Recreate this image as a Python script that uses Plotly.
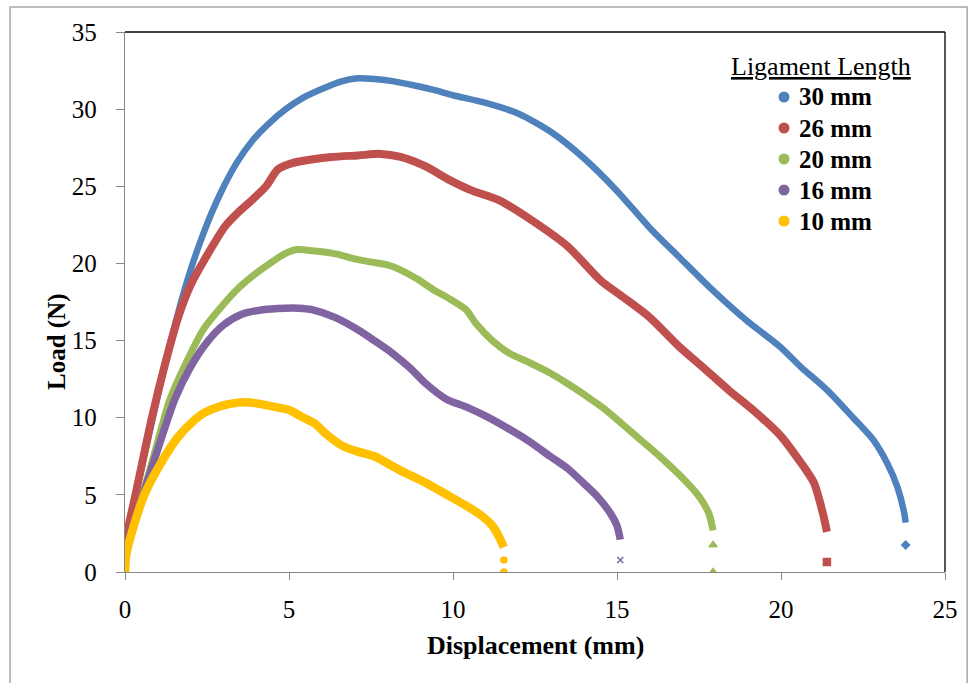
import plotly.graph_objects as go

# Load-displacement curves for five ligament lengths (displacement in mm, load in N)
disp_30 = [0, 0.04, 0.3, 0.9, 1.4, 1.9, 2.4, 2.9, 3.4, 3.9, 4.4, 4.9, 5.4, 6.0, 6.6, 7.1, 7.6,
           8.2, 8.9, 9.5, 10.0, 11.0, 12.0, 13.0, 14.0, 15.0, 16.0, 16.9, 17.9, 18.95, 19.97,
           20.6, 21.4, 22.2, 22.8, 23.25, 23.55, 23.75, 23.8]
load_30 = [0, 2.0, 4.8, 10.5, 15.0, 18.9, 22.0, 24.5, 26.5, 28.0, 29.1, 30.0, 30.7, 31.3, 31.8, 32.0, 31.95,
           31.8, 31.5, 31.2, 30.9, 30.4, 29.7, 28.5, 26.8, 24.7, 22.3, 20.4, 18.3, 16.3, 14.6,
           13.3, 11.8, 10.0, 8.6, 7.0, 5.5, 3.9, 3.2]
tail_disp_30 = [23.8]
tail_load_30 = [1.75]

disp_26 = [0, 0.04, 0.3, 0.82, 1.2, 1.62, 2.0, 2.44, 3.05, 3.5, 3.87, 4.3, 4.66, 5.1, 5.58, 6.3,
           7.1, 7.8, 8.4, 9.15, 9.9, 10.6, 11.4, 12.4, 13.5, 14.5, 15.2, 16.0, 16.9, 17.6, 18.4,
           19.2, 20.0, 20.5, 21.0, 21.3, 21.4]
load_26 = [0, 2.2, 4.8, 10.0, 13.3, 16.5, 18.6, 20.3, 22.4, 23.4, 24.1, 25.0, 26.1, 26.5, 26.7, 26.9,
           27.0, 27.1, 26.9, 26.3, 25.4, 24.7, 24.1, 22.8, 21.1, 18.9, 17.8, 16.5, 14.6, 13.3, 11.8,
           10.4, 8.8, 7.4, 5.8, 3.6, 2.6]
tail_disp_26 = [21.4]
tail_load_26 = [0.65]

disp_20 = [0, 0.05, 0.4, 0.9, 1.37, 1.85, 2.38, 2.9, 3.41, 3.9, 4.42, 4.85, 5.24, 5.8, 6.46, 7.0,
           7.47, 8.0, 8.38, 8.9, 9.4, 9.9, 10.4, 10.7, 11.2, 11.7, 12.3, 12.96, 13.5, 14.1, 14.6,
           15.1, 15.7, 16.3, 16.9, 17.5, 17.8, 17.93]
load_20 = [0, 1.5, 4.0, 7.7, 11.2, 13.5, 15.7, 17.1, 18.3, 19.2, 20.0, 20.6, 20.9, 20.8, 20.6, 20.3,
           20.1, 19.9, 19.6, 19.0, 18.3, 17.7, 17.0, 16.1, 15.0, 14.2, 13.6, 12.9, 12.2, 11.35, 10.6,
           9.7, 8.6, 7.5, 6.3, 4.9, 3.8, 2.7]
tail_disp_20 = [17.93, 17.93]
tail_load_20 = [1.75, 0.0]

disp_16 = [0, 0.05, 0.4, 0.9, 1.52, 2.0, 2.54, 3.0, 3.56, 4.2, 4.88, 5.3, 5.7, 6.4, 7.1, 7.6, 8.14,
           8.7, 9.15, 9.8, 10.4, 11.0, 11.6, 12.3, 12.96, 13.5, 13.96, 14.4, 14.8, 15.0, 15.1]
load_16 = [0, 1.5, 4.0, 7.3, 11.2, 13.3, 15.0, 16.0, 16.7, 17.0, 17.1, 17.1, 17.0, 16.5, 15.7, 15.0,
           14.2, 13.2, 12.25, 11.2, 10.7, 10.1, 9.4, 8.5, 7.5, 6.7, 5.8, 4.9, 3.8, 3.0, 2.1]
tail_disp_16 = [15.1]
tail_load_16 = [0.78]

disp_10 = [0, 0.03, 0.2, 0.61, 1.22, 1.6, 2.04, 2.4, 2.84, 3.2, 3.66, 4.1, 4.57, 5.0, 5.4, 5.8, 6.1,
           6.4, 6.7, 7.1, 7.6, 8.38, 9.15, 9.9, 10.4, 10.9, 11.2, 11.4, 11.55]
load_10 = [0, 1.0, 2.5, 5.1, 7.5, 8.7, 9.7, 10.3, 10.7, 10.9, 11.0, 10.9, 10.7, 10.5, 10.05, 9.6, 9.0,
           8.5, 8.1, 7.8, 7.5, 6.6, 5.8, 4.9, 4.3, 3.6, 3.0, 2.3, 1.6]
tail_disp_10 = [11.55, 11.55]
tail_load_10 = [0.78, 0.0]

series_names = ["30 mm", "26 mm", "20 mm", "16 mm", "10 mm"]
x_ticks = [0, 5, 10, 15, 20, 25]
y_ticks = [0, 5, 10, 15, 20, 25, 30, 35]

series = [
    (disp_30, load_30, tail_disp_30, tail_load_30, "#4F81BD", 6.5, "diamond", 6),
    (disp_26, load_26, tail_disp_26, tail_load_26, "#C0504D", 8.0, "square", 7),
    (disp_20, load_20, tail_disp_20, tail_load_20, "#9BBB59", 7.0, "triangle-up", 7),
    (disp_16, load_16, tail_disp_16, tail_load_16, "#8064A2", 7.5, "x-thin-open", 6),
    (disp_10, load_10, tail_disp_10, tail_load_10, "#FFC000", 8.5, "circle", 6),
]

SERIF = "Liberation Serif, Times New Roman, serif"
fig = go.Figure()

for name, (xs, ys, tx, ty, color, width, symbol, msize) in zip(series_names, series):
    fig.add_trace(go.Scatter(
        x=xs, y=ys, mode="lines", name=name, showlegend=False, hoverinfo="skip",
        line=dict(color=color, width=width, shape="spline", smoothing=0.7),
    ))
    fig.add_trace(go.Scatter(
        x=tx, y=ty, mode="markers", name=name, showlegend=False, hoverinfo="skip",
        marker=dict(color=color, size=msize, symbol=symbol,
                    line=dict(color=color, width=1.5)),
    ))

axis_gray = "#868686"
fig.update_xaxes(
    range=[0, 25], tickvals=x_ticks, showgrid=False, zeroline=False,
    showline=True, linecolor=axis_gray, linewidth=1.3,
    ticks="outside", ticklen=7, tickcolor=axis_gray, tickwidth=1.3,
    tickfont=dict(family=SERIF, size=25, color="black"), ticklabelstandoff=8,
)
fig.update_yaxes(
    range=[0, 35], tickvals=y_ticks, showgrid=False, zeroline=False,
    showline=True, linecolor=axis_gray, linewidth=1.3,
    ticks="outside", ticklen=8, tickcolor=axis_gray, tickwidth=1.3,
    tickfont=dict(family=SERIF, size=25, color="black"), ticklabelstandoff=14,
)

# axis titles
fig.add_annotation(
    text="<b>Displacement (mm)</b>", xref="paper", yref="paper",
    x=(535 - 125) / 820, y=(572 - 645) / 540, xanchor="center", yanchor="middle",
    showarrow=False, font=dict(family=SERIF, size=26, color="black"),
)
fig.add_annotation(
    text="<b>Load (N)</b>", xref="paper", yref="paper", textangle=-90,
    x=(57 - 125) / 820, y=(572 - 342) / 540, xanchor="center", yanchor="middle",
    showarrow=False, font=dict(family=SERIF, size=25, color="black"),
)

# plot-area border (top and right) and the outer chart frame
fig.add_shape(type="line", xref="paper", yref="paper", x0=0, x1=1, y0=1, y1=1,
              line=dict(color="black", width=1.3))
fig.add_shape(type="line", xref="paper", yref="paper", x0=1, x1=1, y0=0, y1=1,
              line=dict(color="black", width=1.3))
fig.add_shape(type="rect", xref="paper", yref="paper",
              x0=-0.1402, x1=1.027, y0=-0.27, y1=1.0463,
              line=dict(color="#A6A6A6", width=1.5))

# legend: underlined heading, round swatches and bold labels
fig.add_annotation(
    text="<u>Ligament Length</u>", xref="paper", yref="paper",
    x=(821 - 125) / 820, y=(572 - 66) / 540, xanchor="center", yanchor="middle",
    showarrow=False, font=dict(family=SERIF, size=26, color="black"),
)
for i, (name, s) in enumerate(zip(series_names, series)):
    row_y = (572 - (97 + 31 * i)) / 540
    sx = (784 - 125) / 820
    fig.add_shape(type="circle", xref="paper", yref="paper",
                  xsizemode="pixel", ysizemode="pixel", xanchor=sx, yanchor=row_y,
                  x0=-5.5, x1=5.5, y0=-5.5, y1=5.5,
                  fillcolor=s[4], line=dict(color=s[4], width=0))
    fig.add_annotation(
        text="<b>" + name + "</b>", xref="paper", yref="paper",
        x=(797 - 125) / 820, y=row_y, xanchor="left", yanchor="middle",
        showarrow=False, font=dict(family=SERIF, size=25, color="black"),
    )

fig.update_layout(
    width=970, height=683,
    margin=dict(l=125, r=25, t=32, b=111),
    paper_bgcolor="white", plot_bgcolor="white",
    showlegend=False,
    font=dict(family=SERIF),
)

fig.write_html("out.html")
